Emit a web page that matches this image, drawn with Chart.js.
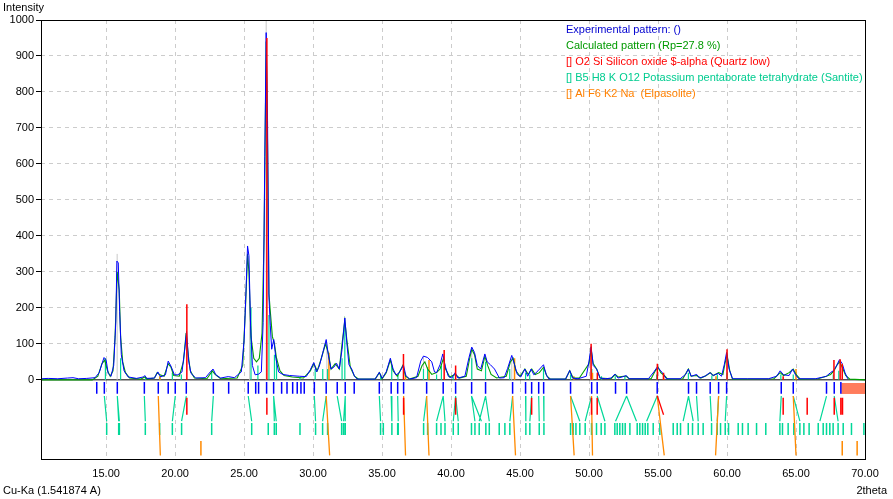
<!DOCTYPE html>
<html lang="en">
<head>
<meta charset="UTF-8">
<title>Diffraction pattern</title>
<script src="https://cdn.jsdelivr.net/npm/chart.js"></script>
<style>
    body { margin: 0; padding: 0; background: #fff; }
    #wrap { width: 893px; height: 499px; }
</style>
</head>
<body>
<div id="wrap"><canvas id="xrd" width="893" height="499"></canvas></div>
<script>
// Experimental pattern [2theta, intensity]
const expPattern = [
    [10.28,3],[10.8,4],[11.5,3],[12.2,5],[12.6,6],[13.0,3],[13.6,4],[14.2,6],[14.5,20],[14.7,45],[14.85,62],[15.0,55],[15.15,18],[15.35,10],
    [15.55,40],[15.7,160],[15.78,330],[15.88,325],[15.98,190],[16.1,70],[16.3,25],[16.6,8],[17.2,4],[17.7,8],[17.8,12],[17.95,4],[18.5,5],
    [18.75,22],[18.95,8],[19.3,14],[19.5,52],[19.7,38],[19.95,14],[20.2,14],[20.5,22],[20.7,85],[20.83,135],[20.97,55],[21.15,18],[21.5,5],
    [22.2,6],[22.55,22],[22.75,30],[22.95,14],[23.3,5],[23.85,9],[24.3,6],[24.8,22],[25.0,110],[25.15,260],[25.25,372],[25.35,345],[25.47,150],
    [25.6,40],[25.8,14],[26.05,16],[26.25,22],[26.38,160],[26.5,620],[26.6,965],[26.7,720],[26.8,230],[26.9,150],[27.0,85],[27.15,112],
    [27.3,60],[27.5,22],[27.8,15],[28.3,12],[29.0,10],[29.5,9],[29.8,28],[30.05,48],[30.25,22],[30.45,38],[30.7,75],[30.95,112],[31.1,70],
    [31.3,30],[31.5,35],[31.7,46],[31.9,30],[32.1,85],[32.3,172],[32.45,100],[32.6,42],[32.8,30],[33.0,10],[33.2,2],[34.5,2],[34.8,21],
    [35.0,4],[35.3,22],[35.6,60],[35.8,30],[36.0,14],[36.2,18],[36.4,30],[36.55,42],[36.72,12],[37.0,2],[37.5,6],[37.8,52],[38.0,66],
    [38.3,62],[38.6,50],[38.8,22],[38.95,20],[39.2,42],[39.4,72],[39.58,38],[39.8,10],[40.05,5],[40.3,20],[40.5,5],[41.0,10],[41.3,62],
    [41.5,91],[41.7,76],[41.9,40],[42.15,30],[42.45,72],[42.62,50],[42.85,42],[43.15,30],[43.5,5],[43.85,6],[44.1,32],[44.4,68],[44.6,42],
    [44.8,15],[45.05,8],[45.35,30],[45.55,10],[45.8,30],[46.0,14],[46.3,25],[46.7,42],[46.9,14],[47.1,2],[48.3,2],[48.6,26],[48.8,5],
    [49.2,3],[49.8,10],[50.0,52],[50.15,92],[50.3,40],[50.55,30],[50.8,5],[51.2,3],[51.6,5],[51.87,16],[52.1,5],[52.4,8],[52.7,12],
    [52.9,3],[54.3,3],[54.7,22],[54.95,36],[55.2,25],[55.4,15],[55.6,3],[56.6,3],[57.0,15],[57.2,30],[57.4,10],[57.8,15],[58.0,5],
    [58.4,10],[58.76,20],[59.0,12],[59.36,18],[59.6,10],[59.8,42],[59.97,76],[60.15,30],[60.4,3],[61.5,3],[63.0,3],[63.6,10],[63.85,25],
    [64.1,14],[64.5,12],[64.75,30],[64.95,15],[65.2,3],[66.4,3],[67.0,8],[67.2,10],[67.5,20],[67.7,25],[67.9,36],[68.15,56],[68.35,45],
    [68.55,20],[68.75,3]
];

// Calculated pattern [2theta, intensity]
const calcPattern = [
    [10.28,0],[14.0,0],[14.4,10],[14.7,45],[14.9,55],[15.1,25],[15.3,10],[15.5,25],[15.65,120],[15.8,300],[15.95,250],[16.05,120],
    [16.2,50],[16.4,20],[16.7,5],[17.5,2],[17.8,8],[18.0,2],[18.5,5],[18.7,20],[18.85,15],[19.2,10],[19.5,45],[19.7,35],[19.9,12],
    [20.3,10],[20.6,50],[20.8,130],[20.95,70],[21.1,25],[21.4,5],[22.3,3],[22.7,25],[22.9,15],[23.3,3],[24.5,5],[24.9,40],[25.1,200],
    [25.25,350],[25.35,300],[25.5,120],[25.7,60],[25.9,50],[26.1,60],[26.3,130],[26.45,400],[26.6,940],[26.7,650],[26.8,240],[26.9,190],
    [27.05,120],[27.2,100],[27.35,60],[27.6,25],[27.9,12],[28.5,8],[29.3,5],[29.8,25],[30.05,45],[30.3,25],[30.6,60],[30.9,100],
    [31.1,75],[31.3,30],[31.6,45],[31.9,30],[32.1,100],[32.3,165],[32.45,110],[32.7,35],[33.0,10],[33.3,2],[34.5,2],[34.8,20],[35.0,3],
    [35.3,20],[35.6,55],[35.8,25],[36.1,10],[36.5,40],[36.7,10],[37.0,2],[37.6,10],[37.9,40],[38.1,50],[38.3,30],[38.6,15],[38.95,20],
    [39.2,30],[39.45,60],[39.6,30],[39.9,8],[40.3,15],[40.6,5],[41.1,10],[41.35,60],[41.5,85],[41.7,70],[41.9,30],[42.2,25],[42.45,65],
    [42.65,40],[42.9,15],[43.3,5],[44.0,10],[44.3,50],[44.5,60],[44.7,25],[45.0,10],[45.35,30],[45.6,15],[45.85,30],[46.1,15],[46.4,20],
    [46.7,35],[46.95,10],[47.2,2],[48.3,2],[48.6,25],[48.85,5],[49.3,5],[50.0,45],[50.15,85],[50.3,45],[50.55,30],[50.8,5],[51.6,3],
    [51.9,15],[52.1,8],[52.5,10],[52.7,10],[52.9,3],[54.5,3],[54.8,25],[55.0,35],[55.2,20],[55.45,12],[55.7,2],[56.8,3],[57.2,30],
    [57.4,10],[57.8,12],[58.1,5],[58.5,12],[58.8,20],[59.0,12],[59.4,20],[59.7,15],[59.85,45],[60.0,70],[60.2,25],[60.4,2],[63.4,3],
    [63.85,20],[64.1,12],[64.5,20],[64.8,30],[65.0,15],[65.3,2],[66.6,3],[67.2,10],[67.5,15],[67.75,25],[67.95,40],[68.15,50],[68.35,35],
    [68.6,12],[68.9,2],[70.0,0]
];

// Peak sticks in the pattern [2theta, intensity]
const sumSticks = [[14.95,60],[15.8,350],[25.4,220],[26.6,1000],[31.0,105],[38.0,65],[41.5,85],[44.4,60],[50.1,60],[60.0,70]];
const quartzSticks = [[20.85,210],[26.65,950],[36.55,72],[39.5,83],[40.33,40],[50.15,100],[50.6,20],[54.95,45],[55.4,20],
    [60.0,85],[64.07,10],[67.75,55],[68.2,57],[68.35,45]];
const santiteSticks = [[14.95,60],[16.05,60],[17.85,8],[18.9,10],[19.8,20],[20.45,15],[22.65,25],[25.5,200],[26.0,40],[26.8,180],
    [27.2,70],[27.35,60],[29.05,8],[30.15,30],[30.7,30],[31.05,30],[32.1,60],[32.3,150],[34.9,15],[35.7,40],[36.15,15],[38.0,30],
    [38.3,35],[38.95,15],[39.3,40],[40.15,10],[41.5,60],[42.5,50],[44.25,30],[45.4,20],[45.7,15],[46.7,30],[48.66,15],[50.2,30],
    [50.9,10],[51.9,10],[52.6,8],[54.9,15],[57.2,20],[58.9,12],[59.3,15],[60.0,20],[63.9,15],[64.8,15],[67.7,15],[68.1,25]];
const elpasoliteSticks = [[18.9,10],[31.15,75],[36.7,15],[38.4,55],[44.6,60],[48.9,10],[50.25,20],[55.4,15],[59.2,10],[65.0,30]];

// Observed peak positions (blue marks)
const peakMarks = [14.32,14.87,15.81,17.77,18.78,19.5,20.01,20.81,22.77,23.88,25.3,25.84,26.05,26.63,27.14,27.72,28.11,28.52,
    28.85,29.12,29.36,30.09,30.95,31.75,32.33,32.98,34.8,35.66,36.13,36.56,38.23,39.43,40.33,41.49,42.5,44.46,45.4,45.84,46.35,
    46.71,48.66,50.19,50.59,51.92,52.72,54.94,57.21,57.79,58.78,59.39,59.97,63.93,64.8,67.21,67.77,68.25];

// Santite reflections
const santiteRefl = [15.04,15.91,15.96,17.84,18.88,19.8,20.47,22.65,25.55,26.75,27.19,27.33,29.05,30.18,30.69,31.05,32.07,32.21,
    32.33,34.89,35.09,35.71,36.13,36.17,38.01,38.3,38.95,39.27,39.56,40.16,40.52,41.48,41.73,42.04,42.52,42.77,43.49,43.9,44.26,
    45.42,45.71,46.39,46.73,48.66,48.85,49.05,49.33,49.72,50.18,50.54,50.88,51.15,51.87,52.04,52.23,52.43,52.62,52.96,53.49,53.68,
    53.88,54.07,54.26,54.65,55.13,56.1,56.39,56.63,57.19,57.5,57.91,58.27,58.88,59.29,59.53,59.87,60.11,60.81,61.12,61.53,62.14,
    62.81,63.83,64.02,64.43,64.84,65.28,65.57,65.95,66.61,66.97,67.21,67.45,67.69,68.05,68.42,69.02,69.92];
// peak -> Santite reflection links [peak, reflection]
const santiteLinks = [[14.87,15.04],[15.81,15.91],[15.81,15.96],[17.77,17.84],[20.01,19.8],[20.81,20.47],[22.77,22.65],[25.3,25.55],
    [27.14,27.19],[27.14,27.33],[30.09,30.18],[30.95,30.69],[31.75,32.07],[32.33,32.21],[32.33,32.33],[34.8,34.89],[35.66,35.71],
    [36.13,36.17],[38.23,38.01],[39.43,38.95],[39.43,39.56],[40.33,40.16],[40.33,40.52],[41.48,41.73],[41.48,42.2],[42.5,42.04],
    [42.5,42.77],[44.46,44.26],[45.4,45.42],[45.84,45.71],[46.35,46.39],[46.71,46.73],[48.66,49.33],[50.18,49.72],[50.59,51.15],
    [52.72,51.92],[52.72,53.44],[54.94,54.17],[57.21,56.82],[57.21,57.55],[57.79,57.91],[58.78,58.88],[59.39,59.29],[59.97,59.87],
    [63.93,63.83],[64.8,65.28],[67.21,66.73],[67.77,68.05]];
// Elpasolite reflections [peak, reflection] and unmatched ones
const elpasoliteLinks = [[18.78,18.93],[30.95,31.2],[36.56,36.7],[38.23,38.4],[44.46,44.67],[48.66,48.92],[50.18,50.25],
    [54.94,55.45],[59.39,59.17],[64.8,65.0]];
const elpasoliteFree = [21.87,68.35,69.43];
// Quartz reflections
const quartzRefl = [20.85,26.65,36.56,40.33,45.84,50.18,50.59,64.07,65.81,67.77,68.25,68.37];
const quartzLinks = [[54.94,55.4]];
const excludedRange = [68.28, 70];

const xTicks = [15, 20, 25, 30, 35, 40, 45, 50, 55, 60, 65, 70];
const yTicks = [0, 100, 200, 300, 400, 500, 600, 700, 800, 900, 1000];

const legendLines = [
    ['Experimental pattern: ()', '#0000d0'],
    ['Calculated pattern (Rp=27.8 %)', '#009a00'],
    ['[] O2 Si Silicon oxide $-alpha (Quartz low)', '#ff0000'],
    ['[] B5 H8 K O12 Potassium pentaborate tetrahydrate (Santite)', '#00cc90'],
    ['[] Al F6 K2 Na  (Elpasolite)', '#ff8000']
];

const BLUE = '#0000ff', GREEN = '#00a000', RED = '#ff0000', TEAL = '#00d898', ORANGE = '#ff8a00', GRAY = '#c8c8c8';

// helpers turning the lists above into broken line segments
function toPoints(pairs) {
    return pairs.map(p => ({ x: p[0], y: p[1] }));
}
function stickData(pairs) {
    const out = [];
    pairs.forEach(p => { out.push({ x: p[0], y: 0 }, { x: p[0], y: p[1] }, { x: p[0], y: null }); });
    return out;
}
function markData(xs, yTop, yBottom) {
    const out = [];
    xs.forEach(x => { out.push({ x: x, y: yTop }, { x: x, y: yBottom }, { x: x, y: null }); });
    return out;
}
function linkData(pairs, yTop, yBottom) {
    const out = [];
    pairs.forEach(p => { out.push({ x: p[0], y: yTop }, { x: p[1], y: yBottom }, { x: p[1], y: null }); });
    return out;
}

function lineSet(data, color, width, order) {
    return {
        data: data, showLine: true, borderColor: color, backgroundColor: color,
        borderWidth: width, pointRadius: 0, pointHoverRadius: 0, spanGaps: false, tension: 0, order: order
    };
}

const datasets = [
    lineSet(stickData(quartzSticks), RED, 1.5, 1),
    lineSet(toPoints(expPattern), BLUE, 1, 2),
    lineSet(toPoints(calcPattern), GREEN, 1.1, 3),
    lineSet(stickData(elpasoliteSticks), ORANGE, 1.5, 4),
    lineSet(stickData(santiteSticks), TEAL, 1.2, 5),
    lineSet(stickData(sumSticks), GRAY, 1, 6),
    lineSet([{ x: 10.28, y: 0 }, { x: 70, y: 0 }], '#000', 1, 7),
    // reflection rows below zero
    lineSet(markData(peakMarks, -6, -39), BLUE, 1.5, 8),
    lineSet(linkData(santiteLinks, -45, -115), TEAL, 1.2, 9),
    lineSet(markData(santiteRefl, -120, -153), TEAL, 1.5, 9),
    lineSet(linkData(elpasoliteLinks, -45, -210), ORANGE, 1.3, 8),
    lineSet(markData(elpasoliteFree, -170, -210), ORANGE, 1.5, 8),
    lineSet(markData(quartzRefl, -50, -97), RED, 1.5, 7),
    lineSet(linkData(quartzLinks, -44, -97), RED, 1.3, 7),
    lineSet([{ x: excludedRange[0], y: -24 }, { x: excludedRange[1], y: -24 }], '#ff7c5c', 11, 10)
];

const framePlugin = {
    id: 'frame',
    afterDatasetsDraw(chart) {
        const { ctx, chartArea: a } = chart;
        ctx.save();
        ctx.strokeStyle = '#000';
        ctx.lineWidth = 1;
        ctx.strokeRect(Math.round(a.left) + 0.5, Math.round(a.top) + 0.5,
            Math.round(a.right - a.left), Math.round(a.bottom - a.top));
        ctx.font = '11px "Liberation Sans", Arial, sans-serif';
        ctx.textBaseline = 'middle';
        legendLines.forEach((l, i) => {
            ctx.fillStyle = l[1];
            ctx.fillText(l[0], 566, 30 + i * 16);
        });
        ctx.fillStyle = '#000';
        ctx.fillText('Intensity', 3, 8);
        ctx.fillText('Cu-Ka (1.541874 A)', 3, 491);
        ctx.textAlign = 'right';
        ctx.fillText('2theta', 887, 491);
        ctx.restore();
    }
};

Chart.defaults.font.family = '"Liberation Sans", Arial, sans-serif';
Chart.defaults.font.size = 11;
Chart.defaults.color = '#000';

new Chart(document.getElementById('xrd'), {
    type: 'scatter',
    data: { datasets: datasets },
    options: {
        responsive: false,
        animation: false,
        devicePixelRatio: 1,
        layout: { padding: { top: 20, right: 28, left: 0, bottom: 0 } },
        plugins: { legend: { display: false }, tooltip: { enabled: false } },
        scales: {
            x: {
                type: 'linear', min: 10.28, max: 70,
                afterBuildTicks: s => { s.ticks = xTicks.map(v => ({ value: v })); },
                afterFit: s => { s.height = 40; },
                ticks: { callback: v => v.toFixed(2), padding: 8, maxRotation: 0, autoSkip: false },
                grid: {
                    color: c => (c.tick && c.tick.value === 70 ? 'transparent' : '#cccccc'),
                    drawTicks: false
                },
                border: { display: false, dash: [4, 4] }
            },
            y: {
                type: 'linear', min: -220, max: 1000,
                afterBuildTicks: s => { s.ticks = yTicks.map(v => ({ value: v })); },
                afterFit: s => { s.width = 41; },
                ticks: { callback: v => String(v), padding: 2, autoSkip: false },
                grid: {
                    color: c => (c.tick && (c.tick.value === 0 || c.tick.value === 1000) ? 'transparent' : '#cccccc'),
                    tickColor: '#000', tickLength: 5, tickBorderDash: []
                },
                border: { display: false, dash: [4, 4] }
            }
        }
    },
    plugins: [framePlugin]
});
</script>
</body>
</html>
